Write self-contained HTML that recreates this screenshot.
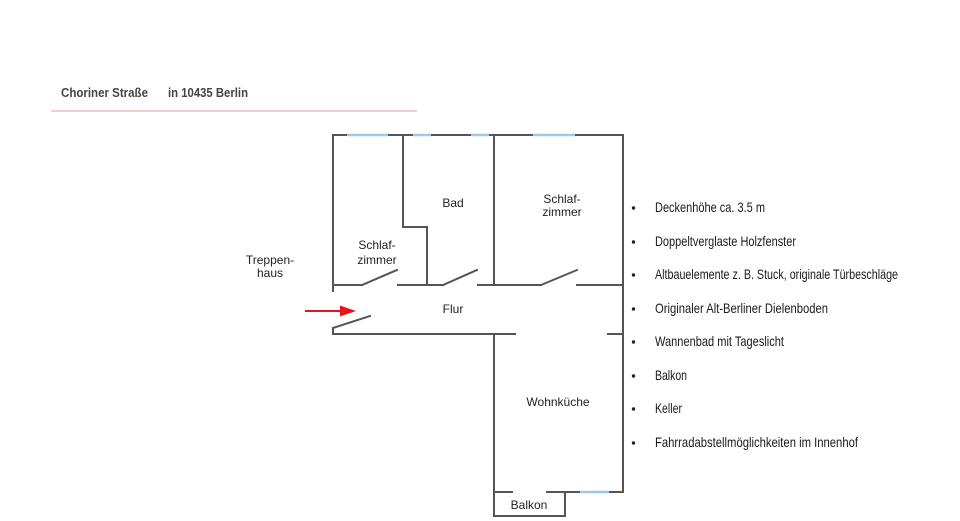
<!DOCTYPE html>
<html><head><meta charset="utf-8"><style>
html,body{margin:0;padding:0;background:#fff;}
svg{display:block;}
</style></head><body>
<svg width="960" height="521" viewBox="0 0 960 521" xmlns="http://www.w3.org/2000/svg">
<rect width="960" height="521" fill="#fff"/>
<!-- title -->
<g font-family="Liberation Sans, Arial, sans-serif" font-weight="bold" font-size="12.5" fill="#444">
<text x="61" y="97" textLength="87" lengthAdjust="spacingAndGlyphs">Choriner Straße</text>
<text x="168" y="97" textLength="80" lengthAdjust="spacingAndGlyphs">in 10435 Berlin</text>
</g>
<line x1="51" y1="111" x2="417" y2="111" stroke="#ee9990" stroke-width="1"/>

<!-- walls -->
<g stroke="#555" stroke-width="2" fill="none" stroke-linecap="square">
<line x1="333" y1="135" x2="623" y2="135"/>
<line x1="333" y1="135" x2="333" y2="291"/>
<line x1="623" y1="135" x2="623" y2="492"/>
<polyline points="403,135 403,227 427,227 427,285"/>
<line x1="494" y1="135" x2="494" y2="285"/>
<line x1="333" y1="285" x2="362" y2="285"/>
<line x1="398" y1="285" x2="443" y2="285"/>
<line x1="478" y1="285" x2="541" y2="285"/>
<line x1="577" y1="285" x2="623" y2="285"/>
<line x1="362" y1="285" x2="397" y2="270"/>
<line x1="443" y1="285" x2="477" y2="270"/>
<line x1="541" y1="285" x2="577" y2="270"/>
<line x1="333" y1="328" x2="333" y2="334"/>
<line x1="333" y1="328" x2="370" y2="316"/>
<line x1="333" y1="334" x2="515" y2="334"/>
<line x1="608" y1="334" x2="623" y2="334"/>
<line x1="494" y1="334" x2="494" y2="516"/>
<line x1="494" y1="492" x2="512" y2="492"/>
<line x1="547" y1="492" x2="623" y2="492"/>
<line x1="494" y1="516" x2="565" y2="516"/>
<line x1="565" y1="492" x2="565" y2="516"/>
</g>
<!-- windows -->
<g stroke="#a3c7e8" stroke-width="2.5">
<line x1="347" y1="135" x2="388" y2="135"/>
<line x1="413" y1="135" x2="431" y2="135"/>
<line x1="471" y1="135" x2="489" y2="135"/>
<line x1="533" y1="135" x2="575" y2="135"/>
<line x1="580" y1="492" x2="609" y2="492"/>
</g>
<!-- arrow -->
<line x1="305" y1="311" x2="342" y2="311" stroke="#e8141b" stroke-width="2"/>
<polygon points="340,305.5 356,311 340,316.5" fill="#e8141b"/>

<!-- labels -->
<g font-family="Liberation Sans, Arial, sans-serif" font-size="12" fill="#222" text-anchor="middle">
<text x="453" y="207">Bad</text>
<text x="562" y="203">Schlaf-</text>
<text x="562" y="216">zimmer</text>
<text x="377" y="249">Schlaf-</text>
<text x="377" y="264">zimmer</text>
<text x="270" y="264">Treppen-</text>
<text x="270" y="277">haus</text>
<text x="453" y="313">Flur</text>
<text x="558" y="406">Wohnküche</text>
<text x="529" y="509">Balkon</text>
</g>

<!-- bullet list -->
<g font-family="Liberation Sans Narrow, Liberation Sans, Arial, sans-serif" font-size="14" fill="#1a1a1a">
<g fill="#222">
<circle cx="633.5" cy="208" r="1.7"/>
<circle cx="633.5" cy="242" r="1.7"/>
<circle cx="633.5" cy="275" r="1.7"/>
<circle cx="633.5" cy="309" r="1.7"/>
<circle cx="633.5" cy="342" r="1.7"/>
<circle cx="633.5" cy="376" r="1.7"/>
<circle cx="633.5" cy="409" r="1.7"/>
<circle cx="633.5" cy="443" r="1.7"/>
</g>
<text x="655" y="212" textLength="110" lengthAdjust="spacingAndGlyphs">Deckenhöhe  ca. 3.5 m</text>
<text x="655" y="246" textLength="141" lengthAdjust="spacingAndGlyphs">Doppeltverglaste Holzfenster</text>
<text x="655" y="279" textLength="243" lengthAdjust="spacingAndGlyphs">Altbauelemente z. B. Stuck, originale Türbeschläge</text>
<text x="655" y="313" textLength="173" lengthAdjust="spacingAndGlyphs">Originaler Alt-Berliner Dielenboden</text>
<text x="655" y="346" textLength="129" lengthAdjust="spacingAndGlyphs">Wannenbad mit Tageslicht</text>
<text x="655" y="380" textLength="32" lengthAdjust="spacingAndGlyphs">Balkon</text>
<text x="655" y="413" textLength="27" lengthAdjust="spacingAndGlyphs">Keller</text>
<text x="655" y="447" textLength="203" lengthAdjust="spacingAndGlyphs">Fahrradabstellmöglichkeiten im Innenhof</text>
</g>
</svg>
</body></html>
